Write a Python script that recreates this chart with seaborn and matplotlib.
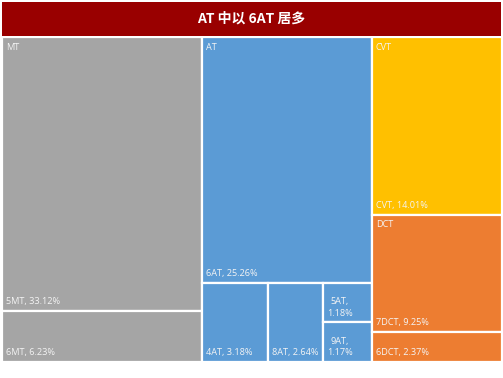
import matplotlib
matplotlib.use("Agg")
import matplotlib.pyplot as plt
import seaborn as sns
from matplotlib.patches import Rectangle

# ---- data ----
title = "AT 中以 6AT 居多"
groups = ["MT", "AT", "CVT", "DCT"]
group_colors = ["#A5A5A5", "#5B9BD5", "#FFC000", "#ED7D31"]
mt_labels = ["5MT", "6MT"]
mt_values = [33.12, 6.23]
at_labels = ["6AT", "4AT", "8AT", "5AT", "9AT"]
at_values = [25.26, 3.18, 2.64, 1.18, 1.17]
cvt_labels = ["CVT"]
cvt_values = [14.01]
dct_labels = ["7DCT", "6DCT"]
dct_values = [9.25, 2.37]

sns.set_theme(style="white")
plt.rcParams['font.family'] = ['Noto Sans CJK SC', 'DejaVu Sans']

W, H = 503, 378
fig = plt.figure(figsize=(W / 100, H / 100), dpi=100)
fig.patch.set_facecolor("white")

# title bar
tax = fig.add_axes([2 / W, 1 - 36 / H, 499 / W, 34 / H])
tax.set_facecolor("#990000")
tax.set_xticks([]); tax.set_yticks([])
for s in tax.spines.values():
    s.set_visible(False)
tax.text(0.5, 0.5, title, color="white", fontsize=10, fontweight="bold",
         ha="center", va="center", transform=tax.transAxes)

# treemap axes
ax = fig.add_axes([1.5 / W, 1 - 362 / H, 500.5 / W, 325 / H])
ax.set_xlim(0, 1)
ax.set_ylim(1, 0)
ax.axis("off")


def vslice(rect, vals):
    x, y, w, h = rect
    tot = sum(vals)
    out = []
    for v in vals:
        hh = h * v / tot
        out.append((x, y, w, hh))
        y += hh
    return out


def hslice(rect, vals):
    x, y, w, h = rect
    tot = sum(vals)
    out = []
    for v in vals:
        ww = w * v / tot
        out.append((x, y, ww, h))
        x += ww
    return out


cols = hslice((0, 0, 1, 1), [sum(mt_values), sum(at_values),
                             sum(cvt_values) + sum(dct_values)])

leaf_rects = []  # (rect, label, value, color, wrap)
# MT
for r, l, v in zip(vslice(cols[0], mt_values), mt_labels, mt_values):
    leaf_rects.append((r, l, v, group_colors[0], False))
# AT
at_top, at_bottom = vslice(cols[1], [at_values[0], sum(at_values[1:])])
leaf_rects.append((at_top, at_labels[0], at_values[0], group_colors[1], False))
b = hslice(at_bottom, [at_values[1], at_values[2], at_values[3] + at_values[4]])
leaf_rects.append((b[0], at_labels[1], at_values[1], group_colors[1], False))
leaf_rects.append((b[1], at_labels[2], at_values[2], group_colors[1], False))
for r, l, v in zip(vslice(b[2], at_values[3:5]), at_labels[3:5], at_values[3:5]):
    leaf_rects.append((r, l, v, group_colors[1], True))
# CVT / DCT
cvt_r, dct_r = vslice(cols[2], [sum(cvt_values), sum(dct_values)])
leaf_rects.append((cvt_r, cvt_labels[0], cvt_values[0], group_colors[2], False))
for r, l, v in zip(vslice(dct_r, dct_values), dct_labels, dct_values):
    leaf_rects.append((r, l, v, group_colors[3], False))

label_color = "#F4F4F4"
fs = 6.6
for (x, y, w, h), l, v, c, wrap in leaf_rects:
    ax.add_patch(Rectangle((x, y), w, h, facecolor=c, edgecolor="white",
                           linewidth=1.6))
    txt = f"{l},\n{v:.2f}%" if wrap else f"{l}, {v:.2f}%"
    ax.annotate(txt, xy=(x, y + h), xytext=(3, 3.5), textcoords="offset points",
                ha="left", va="bottom", fontsize=fs, color=label_color,
                multialignment="center", family=["Open Sans", "DejaVu Sans"],
                linespacing=1.3)

# group labels at top-left of each group
group_tops = [cols[0], cols[1], cvt_r, dct_r]
for g, (x, y, w, h) in zip(groups, group_tops):
    ax.annotate(g, xy=(x, y), xytext=(3, -4), textcoords="offset points",
                ha="left", va="top", fontsize=fs, color=label_color,
                family=["Open Sans", "DejaVu Sans"])

fig.savefig("out.png", dpi=100)
